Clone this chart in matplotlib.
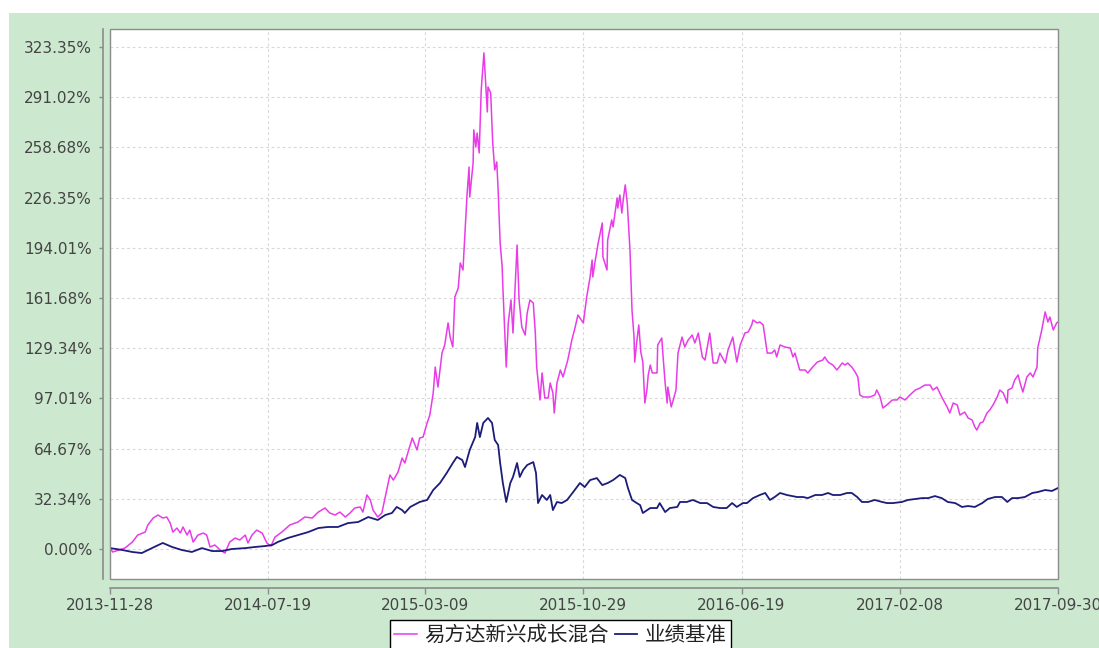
import matplotlib
matplotlib.use("Agg")
import matplotlib.pyplot as plt
from matplotlib.patches import Rectangle
import pandas as pd

plt.rcParams['font.family'] = ['Noto Sans CJK SC', 'DejaVu Sans']

start_date = "2013-11-28"
end_date = "2017-09-30"

# days since start_date, cumulative return in %
fund_days = [0, 4, 22, 33, 41, 52, 56, 64, 71, 78, 84, 89, 93, 99, 104, 108, 114, 118, 123, 130,
             138, 143, 148, 155, 163, 170, 177, 185, 192, 200, 204, 210, 217, 225, 232, 238, 244, 254, 266, 278,
             288, 299, 308, 318, 325, 333, 340, 348, 355, 362, 370, 374, 380, 385, 389, 396, 402, 407, 414, 419,
             426, 432, 436, 447, 454, 458, 463, 469, 473, 478, 481, 485, 491, 495, 500, 503, 507, 510, 515, 518,
             522, 528, 531, 532, 537, 538, 541, 543, 546, 549, 553, 558, 559, 563, 566, 569, 572, 574, 577, 580,
             581, 586, 589, 593, 596, 602, 605, 609, 614, 617, 621, 626, 629, 631, 636, 639, 643, 648, 651, 655,
             657, 661, 666, 670, 677, 683, 688, 692, 700, 705, 710, 713, 714, 717, 722, 728, 729, 735, 736, 742,
             744, 750, 751, 754, 757, 759, 762, 765, 769, 772, 775, 776, 779, 782, 785, 788, 791, 794, 796, 799,
             802, 809, 810, 816, 818, 821, 824, 825, 830, 833, 837, 840, 846, 850, 855, 861, 865, 870, 876, 880,
             887, 892, 898, 902, 910, 914, 921, 927, 932, 939, 944, 949, 951, 957, 961, 966, 972, 979, 983, 986,
             991, 998, 1006, 1010, 1013, 1020, 1028, 1032, 1038, 1046, 1054, 1057, 1062, 1069, 1075, 1083, 1087, 1091, 1097, 1102,
             1106, 1109, 1114, 1124, 1131, 1134, 1139, 1143, 1149, 1157, 1164, 1168, 1176, 1183, 1191, 1198, 1205, 1213, 1217, 1223,
             1230, 1238, 1242, 1247, 1253, 1257, 1264, 1269, 1275, 1279, 1282, 1287, 1291, 1297, 1301, 1306, 1312, 1316, 1321, 1327,
             1328, 1334, 1338, 1343, 1346, 1350, 1356, 1361, 1365, 1371, 1372, 1378, 1383, 1387, 1390, 1395, 1400, 1402]
fund_vals = [0.6, -1.9, 0.6, 4.5, 9.0, 10.9, 15.5, 20.0, 21.9, 20.0, 20.6, 16.7, 10.9, 13.5, 10.3, 14.2, 9.0, 12.2, 4.5, 9.0,
             10.3, 9.0, 1.3, 2.6, -0.6, -2.6, 4.5, 7.1, 5.8, 9.0, 3.9, 9.0, 12.2, 10.3, 3.9, 1.9, 7.7, 10.9, 15.5, 17.4,
             20.6, 20.0, 23.8, 26.4, 23.2, 21.9, 23.8, 20.6, 23.2, 26.4, 27.1, 23.8, 34.8, 31.6, 25.1, 20.6, 23.2, 33.5, 47.7, 44.4,
             49.6, 58.6, 55.4, 71.5, 63.8, 71.5, 72.1, 81.2, 86.3, 100.5, 117.2, 104.3, 126.2, 131.4, 145.6, 136.5, 130.1, 162.3, 168.1, 184.2,
             179.7, 228.0, 246.0, 226.7, 248.6, 269.9, 258.9, 267.9, 255.1, 295.6, 319.5, 281.5, 297.6, 293.7, 261.5, 244.1, 249.3, 231.2, 197.1, 181.6,
             168.8, 117.2, 145.6, 160.4, 139.1, 195.8, 160.4, 143.0, 137.8, 152.0, 160.4, 158.4, 139.1, 117.2, 96.0, 113.4, 97.3, 97.3, 106.9, 100.5,
             87.6, 106.9, 115.3, 110.8, 121.7, 134.6, 143.0, 150.7, 145.6, 162.3, 175.2, 186.1, 175.2, 184.2, 197.1, 210.0, 188.1, 179.7, 199.0, 211.9,
             207.4, 226.1, 219.6, 228.0, 216.4, 224.8, 234.5, 222.9, 192.6, 153.9, 136.5, 120.4, 133.3, 144.3, 126.9, 120.4, 94.0, 102.4, 112.1, 118.5,
             113.4, 113.4, 131.4, 135.9, 123.7, 106.9, 94.0, 104.3, 91.5, 96.0, 102.4, 126.2, 136.5, 130.1, 134.6, 137.8, 132.7, 139.1, 123.7, 121.7,
             139.1, 119.8, 119.8, 126.2, 119.8, 128.2, 136.5, 120.4, 131.4, 139.1, 139.8, 144.3, 147.5, 145.6, 146.2, 144.3, 126.2, 126.2, 128.2, 123.7,
             131.4, 130.1, 129.5, 123.7, 126.2, 115.3, 115.3, 113.4, 116.6, 120.4, 121.7, 123.7, 120.4, 118.5, 115.3, 119.8, 118.5, 119.8, 117.2, 114.0,
             110.8, 99.2, 97.9, 97.9, 99.2, 102.4, 97.9, 90.8, 92.8, 96.0, 96.0, 97.9, 96.0, 99.2, 102.4, 103.7, 105.6, 105.6, 102.4, 104.3,
             97.9, 91.5, 87.6, 94.0, 92.8, 86.3, 88.2, 84.4, 83.1, 78.6, 76.6, 81.2, 81.8, 87.6, 89.5, 92.8, 97.9, 102.4, 100.5, 94.0,
             102.4, 103.7, 108.9, 112.1, 106.9, 101.1, 110.8, 113.4, 110.8, 117.2, 129.5, 141.1, 152.7, 146.2, 149.4, 141.1, 145.6, 146.2]

bench_days = [0, 18, 33, 47, 62, 78, 92, 106, 121, 136, 151, 166, 180, 200, 214, 229, 240, 248, 263, 278,
              293, 308, 322, 337, 352, 367, 382, 396, 407, 417, 424, 432, 436, 444, 455, 458, 469, 478, 488, 498,
              507, 513, 521, 525, 532, 540, 543, 547, 552, 559, 565, 569, 574, 577, 581, 586, 592, 596, 602, 606,
              611, 617, 626, 630, 633, 639, 646, 651, 655, 661, 668, 676, 685, 695, 702, 710, 720, 728, 736, 744,
              754, 762, 766, 772, 779, 784, 788, 799, 809, 813, 821, 828, 839, 843, 853, 862, 873, 883, 892, 902,
              912, 920, 927, 936, 942, 951, 961, 969, 976, 983, 991, 1001, 1016, 1025, 1032, 1043, 1053, 1062, 1069, 1080,
              1090, 1097, 1105, 1112, 1121, 1131, 1142, 1149, 1158, 1171, 1180, 1191, 1201, 1210, 1220, 1230, 1239, 1250, 1260, 1269,
              1279, 1290, 1298, 1309, 1319, 1327, 1334, 1343, 1353, 1364, 1372, 1383, 1393, 1402]
bench_vals = [0.6, -0.6, -1.9, -2.6, 0.6, 3.9, 1.3, -0.6, -1.9, 0.6, -1.3, -1.3, 0.0, 0.6, 1.3, 1.9, 2.6, 4.5, 7.1, 9.0,
              10.9, 13.5, 14.2, 14.2, 16.7, 17.4, 20.6, 18.7, 21.9, 23.2, 27.1, 25.1, 23.2, 27.1, 29.6, 30.3, 31.6, 38.0, 42.5, 49.0,
              55.4, 59.3, 57.3, 52.8, 63.8, 72.1, 81.2, 72.1, 81.2, 84.4, 81.2, 70.2, 67.0, 55.4, 42.5, 30.3, 42.5, 46.4, 55.4, 46.4,
              50.9, 54.1, 56.0, 49.0, 29.6, 34.8, 31.6, 34.8, 25.1, 30.3, 29.6, 31.6, 36.7, 42.5, 39.9, 44.4, 45.7, 41.2, 42.5, 44.4,
              47.7, 45.7, 39.3, 31.6, 29.6, 28.3, 23.2, 26.4, 26.4, 29.6, 23.8, 26.4, 27.1, 30.3, 30.3, 31.6, 29.6, 29.6, 27.1, 26.4,
              26.4, 29.6, 27.1, 29.6, 29.6, 32.8, 34.8, 36.1, 31.6, 33.5, 36.1, 34.8, 33.5, 33.5, 32.8, 34.8, 34.8, 36.1, 34.8, 34.8,
              36.1, 36.1, 33.5, 30.3, 30.3, 31.6, 30.3, 29.6, 29.6, 30.3, 31.6, 32.2, 32.8, 32.8, 34.1, 32.8, 30.3, 29.6, 27.1, 27.7,
              27.1, 29.6, 32.2, 33.5, 33.5, 30.3, 32.8, 32.8, 33.5, 36.1, 36.7, 38.0, 37.4, 39.3]

series_names = ["易方达新兴成长混合", "业绩基准"]
series_colors = ["#E83CE8", "#1C1C7A"]

y_ticks = [0.0, 32.335, 64.67, 97.005, 129.34, 161.675, 194.01, 226.345, 258.68, 291.015, 323.35]
y_labels = ["0.00%", "32.34%", "64.67%", "97.01%", "129.34%", "161.68%",
            "194.01%", "226.35%", "258.68%", "291.02%", "323.35%"]
x_ticks = ["2013-11-28", "2014-07-19", "2015-03-09", "2015-10-29",
           "2016-06-19", "2017-02-08", "2017-09-30"]

t0 = pd.Timestamp(start_date)
fund_dates = t0 + pd.to_timedelta(fund_days, unit="D")
bench_dates = t0 + pd.to_timedelta(bench_days, unit="D")

W, H = 1099, 648
fig = plt.figure(figsize=(W / 100, H / 100), dpi=100, facecolor="white")
fig.add_artist(Rectangle((9 / W, 0), 1 - 9 / W, (H - 13) / H, transform=fig.transFigure,
                         facecolor="#CCE8CF", edgecolor="none", zorder=0))

ax = fig.add_axes([110 / W, (H - 579) / H, (1058 - 110) / W, (579 - 29) / H])
ax.set_facecolor("white")

ax.plot(fund_dates, fund_vals, color=series_colors[0], lw=1.1, label=series_names[0], zorder=3)
ax.plot(bench_dates, bench_vals, color=series_colors[1], lw=1.3, label=series_names[1], zorder=3)

ax.set_xlim(pd.Timestamp(start_date), pd.Timestamp(end_date))
ax.set_ylim(-19.3, 334.9)

ax.set_yticks(y_ticks)
ax.set_yticklabels(y_labels)
ax.set_xticks(pd.to_datetime(x_ticks))
ax.set_xticklabels(x_ticks)

ax.grid(True, color="#D8D8D8", linestyle=(0, (2.5, 2.5)), linewidth=0.8)
ax.set_axisbelow(True)

# plot box plus offset axis lines
ax.add_patch(Rectangle((0, 0), 1, 1, transform=ax.transAxes, fill=False,
                       edgecolor="#8C8C8C", lw=1.0, clip_on=False, zorder=4))
for s in ["top", "right"]:
    ax.spines[s].set_visible(False)
ax.spines["left"].set_position(("outward", 5))
ax.spines["bottom"].set_position(("outward", 6.5))
for s in ["left", "bottom"]:
    ax.spines[s].set_color("#8C8C8C")
    ax.spines[s].set_linewidth(1.2)

ax.tick_params(axis="both", colors="#8C8C8C", labelcolor="#444444", labelsize=11,
               direction="out", length=3, width=1)
ax.tick_params(axis="y", pad=5)
ax.tick_params(axis="x", pad=3, length=4)
for lab in ax.get_xticklabels() + ax.get_yticklabels():
    lab.set_family("DejaVu Sans")

leg = fig.legend(loc="upper left", bbox_to_anchor=(390 / W, 1 - 620 / H), ncol=2,
                 fontsize=14.8, frameon=True, fancybox=False, framealpha=1, handlelength=1.1,
                 handletextpad=0.35, columnspacing=0.3, borderpad=0.2, borderaxespad=0)
leg.get_frame().set_edgecolor("black")
leg.get_frame().set_facecolor("white")
leg.get_frame().set_linewidth(1.0)
for t in leg.get_texts():
    t.set_color("#222222")

fig.savefig("out.png", dpi=100, facecolor="white")
